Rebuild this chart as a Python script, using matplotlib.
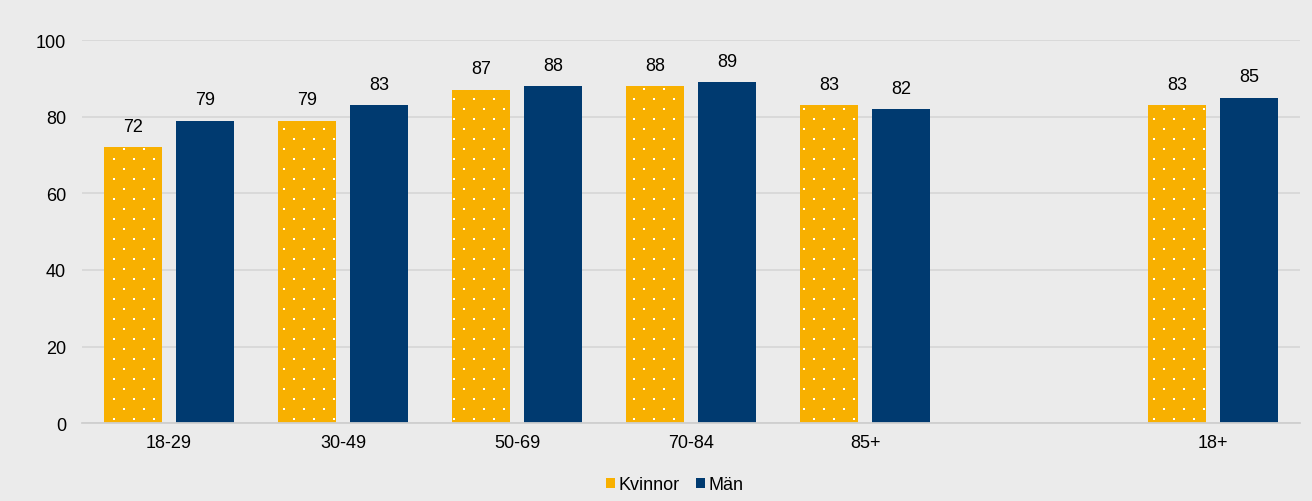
import matplotlib
matplotlib.use("Agg")
import matplotlib.pyplot as plt
import numpy as np
from matplotlib.patches import Patch

categories = ["18-29", "30-49", "50-69", "70-84", "85+", "", "18+"]
kvinnor = [72, 79, 87, 88, 83, None, 83]
man = [79, 83, 88, 89, 82, None, 85]
series_names = ["Kvinnor", "Män"]
yticks = [0, 20, 40, 60, 80, 100]

YELLOW = "#F8B000"
NAVY = "#003A70"
BG = "#EBEBEB"
FS = 13

plt.rcParams["font.family"] = ["Liberation Sans", "DejaVu Sans"]

W, H, DPI = 1312, 502, 100
fig = plt.figure(figsize=(W / DPI, H / DPI), dpi=DPI, facecolor=BG)
ax = fig.add_axes([0.0625, 0.155, 0.9285, 0.763])
ax.set_facecolor(BG)

x = np.arange(len(categories))
w = 0.333
off = 0.207


def valid(vals):
    idx = [i for i, v in enumerate(vals) if v is not None]
    return np.array(idx), np.array([vals[i] for i in idx])


xi, yk = valid(kvinnor)
xm, ym = valid(man)

bk = ax.bar(xi - off, yk, w, color=YELLOW, linewidth=0,
            label=series_names[0], zorder=3)
bm = ax.bar(xm + off, ym, w, color=NAVY, linewidth=0,
            label=series_names[1], zorder=3)

for bars, vals in ((bk, yk), (bm, ym)):
    for b, v in zip(bars, vals):
        ax.annotate(f"{v:g}", (b.get_x() + b.get_width() / 2, v),
                    xytext=(0, 9), textcoords="offset points",
                    ha="center", va="bottom", fontsize=FS, color="black")

ax.set_xlim(-0.5, len(categories) - 0.5)
ax.set_ylim(0, 100)
ax.set_yticks(yticks)
ax.set_xticks(x)
ax.set_xticklabels(categories)
ax.tick_params(axis="both", length=0, labelsize=FS, colors="black")
ax.tick_params(axis="y", pad=11.5)
ax.tick_params(axis="x", pad=8)

ax.yaxis.grid(True, color="#D6D6D6", linewidth=1.2, zorder=0)
ax.set_axisbelow(True)
for s in ("top", "right", "left"):
    ax.spines[s].set_visible(False)
ax.spines["bottom"].set_color("#CFCFCF")
ax.spines["bottom"].set_linewidth(1.3)
ax.spines["bottom"].set_zorder(4)

# White dotted texture on the Kvinnor bars: a staggered pixel lattice
# (10 px step, alternate rows shifted), clipped to each bar.
step = 10.0
to_px = ax.transData
to_data = ax.transData.inverted()
for b in bk:
    (x0, y0), (x1, y1) = to_px.transform([(b.get_x(), 0),
                                          (b.get_x() + b.get_width(), b.get_height())])
    # lattice defined in image rows counted from the top edge
    top_img, bot_img = H - y1, H - y0
    pts = []
    for j in range(int(np.ceil((top_img - 9.5) / step)), int((bot_img - 9.5) // step) + 1):
        yy = 9.5 + j * step
        if yy < top_img + 0.8 or yy > bot_img - 0.8:
            continue
        for i in range(int(np.ceil((x0 - 3.5) / step)), int((x1 - 3.5) // step) + 1):
            xx = 3.5 + i * step
            if (i + j) % 2 or xx < x0 + 0.8 or xx > x1 - 0.8:
                continue
            pts.append((xx, H - yy))
    if pts:
        d = to_data.transform(np.array(pts))
        ax.scatter(d[:, 0], d[:, 1], s=3.2, marker="s", color="white",
                   linewidths=0, zorder=3.5)

handles = [Patch(facecolor=YELLOW, label=series_names[0]),
           Patch(facecolor=NAVY, label=series_names[1])]
fig.legend(handles=handles, loc="center", bbox_to_anchor=(0.514, 0.032),
           ncol=2, frameon=False, fontsize=FS, handlelength=0.55,
           handleheight=0.55, handletextpad=0.15, columnspacing=0.9)

fig.savefig("out.png", dpi=DPI, facecolor=BG)
